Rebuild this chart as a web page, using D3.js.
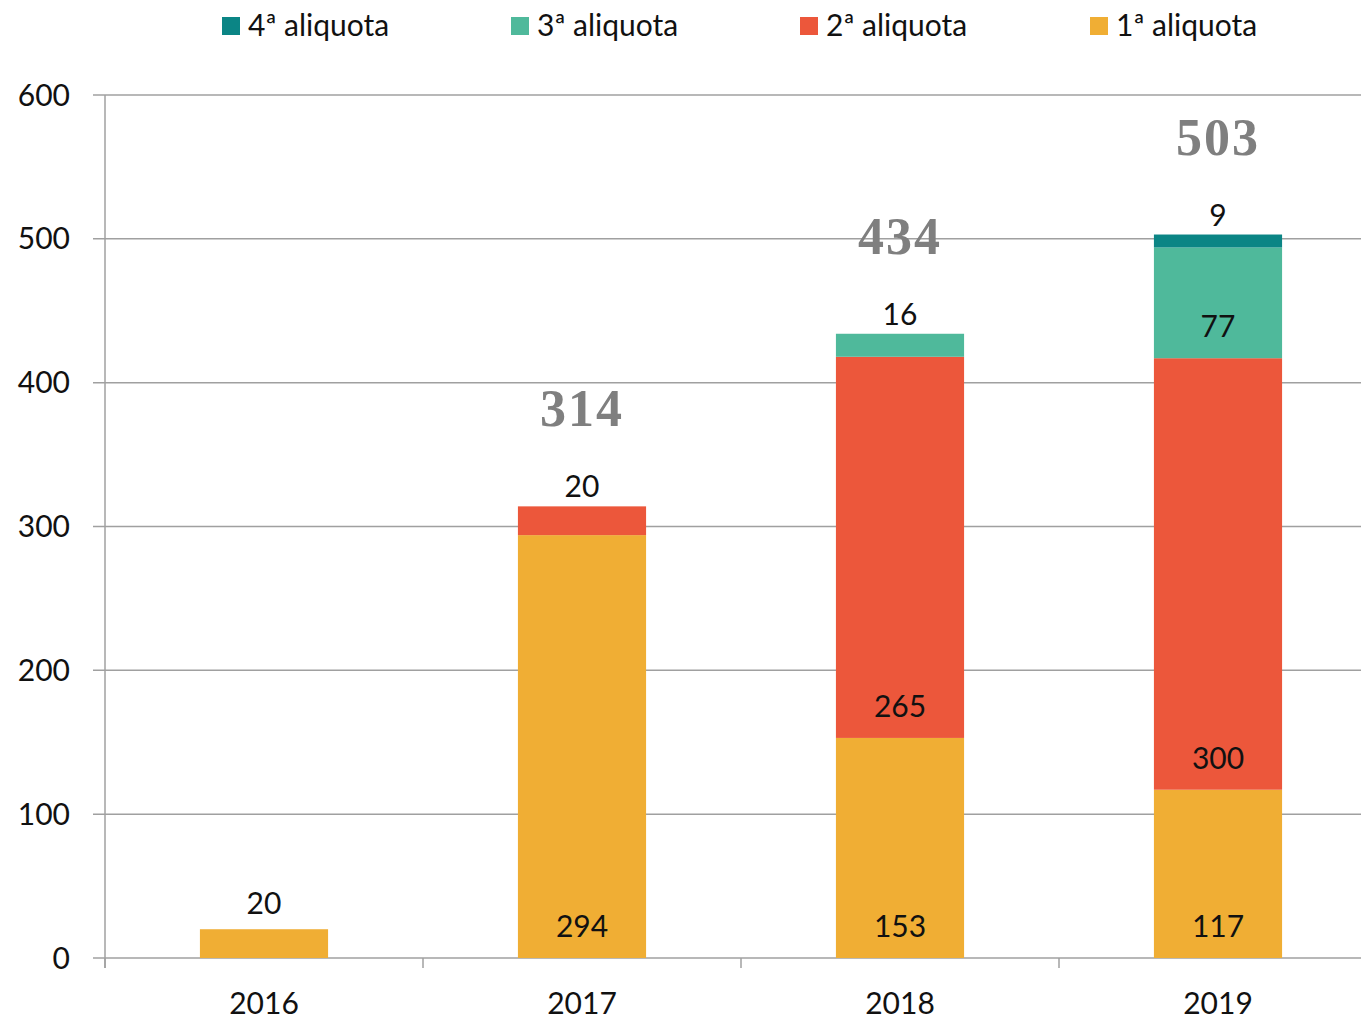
<!DOCTYPE html>
<html><head><meta charset="utf-8">
<script src="https://cdn.jsdelivr.net/npm/d3@7"></script>
<style>body{margin:0;background:#fff;} svg{display:block;}</style>
</head><body>
<svg id="c" width="1361" height="1019"></svg>
<script>
const years = ["2016","2017","2018","2019"];
const aliquota1 = [20, 294, 153, 117];
const aliquota2 = [0, 20, 265, 300];
const aliquota3 = [0, 0, 16, 77];
const aliquota4 = [0, 0, 0, 9];
const totals = [null, 314, 434, 503];
const yTicks = [0, 100, 200, 300, 400, 500, 600];
const seriesNames = ["1ª aliquota","2ª aliquota","3ª aliquota","4ª aliquota"];
const legendOrder = ["4ª aliquota","3ª aliquota","2ª aliquota","1ª aliquota"];
const colors = {"1ª aliquota":"#f0ae34","2ª aliquota":"#ec573b","3ª aliquota":"#4fb99b","4ª aliquota":"#0b8585"};

(function(){
const svg = d3.select("#c");
const font = "Lato, 'Open Sans', sans-serif";
const pLeft = 105, pRight = 1377, pTop = 95, pBottom = 958;

const x = d3.scaleBand().domain(years).range([pLeft, pRight]).padding(0);
const y = d3.scaleLinear().domain([0, 600]).range([pBottom, pTop]);
const bw = x.step() * 0.403;

svg.append("g").selectAll("line").data(yTicks).join("line")
  .attr("x1", pLeft - 12).attr("x2", 1361)
  .attr("y1", d => y(d)).attr("y2", d => y(d))
  .attr("stroke", "#a0a0a0").attr("stroke-width", 1.5);
svg.append("line").attr("x1", pLeft).attr("x2", pLeft).attr("y1", pTop).attr("y2", pBottom + 10)
  .attr("stroke", "#a0a0a0").attr("stroke-width", 1.5);
svg.append("g").selectAll("line").data(years).join("line")
  .attr("x1", d => x(d)).attr("x2", d => x(d)).attr("y1", pBottom).attr("y2", pBottom + 10)
  .attr("stroke", "#a0a0a0").attr("stroke-width", 1.5);
svg.append("g").selectAll("text").data(yTicks).join("text")
  .attr("x", 70).attr("y", d => y(d)).attr("dy", "0.35em")
  .attr("text-anchor", "end").attr("font-family", font).attr("font-size", 30)
  .attr("fill", "#111").text(d => d);
svg.append("g").selectAll("text").data(years).join("text")
  .attr("x", d => x(d) + x.step()/2).attr("y", 1014)
  .attr("text-anchor", "middle").attr("font-family", font).attr("font-size", 30)
  .attr("fill", "#111").text(d => d);

const rows = years.map((yr, i) => ({year: yr, "1ª aliquota": aliquota1[i], "2ª aliquota": aliquota2[i], "3ª aliquota": aliquota3[i], "4ª aliquota": aliquota4[i]}));
const stack = d3.stack().keys(seriesNames)(rows);

const g = svg.append("g");
stack.forEach(layer => {
  g.selectAll(null).data(layer.filter(d => d[1] > d[0])).join("rect")
    .attr("x", d => x(d.data.year) + x.step()/2 - bw/2)
    .attr("width", bw)
    .attr("y", d => y(d[1]))
    .attr("height", d => y(d[0]) - y(d[1]))
    .attr("fill", colors[layer.key]);
});

stack.forEach(layer => {
  layer.forEach(d => {
    const v = d[1] - d[0];
    if (v <= 0) return;
    const cx = x(d.data.year) + x.step()/2;
    const segH = y(d[0]) - y(d[1]);
    const ty = segH < 40 ? y(d[1]) - (d[0] === 0 ? 15 : 9) : y(d[0]) - 21;
    g.append("text").attr("x", cx).attr("y", ty).attr("text-anchor", "middle")
      .attr("font-family", font).attr("font-size", 30).attr("fill", "#111").text(v);
  });
});

years.forEach((yr, i) => {
  if (totals[i] == null) return;
  g.append("text").attr("x", x(yr) + x.step()/2).attr("y", y(totals[i]) - 80)
    .attr("text-anchor", "middle").attr("font-family", "'Liberation Serif', serif")
    .attr("font-weight", "bold").attr("font-size", 52).attr("letter-spacing", 2).attr("fill", "#7f7f7f")
    .text(totals[i]);
});

const lgX = [222, 511, 800, 1090];
const lg = svg.append("g");
legendOrder.forEach((name, i) => {
  lg.append("rect").attr("x", lgX[i]).attr("y", 17).attr("width", 18).attr("height", 18).attr("fill", colors[name]);
  lg.append("text").attr("x", lgX[i] + 26).attr("y", 36).attr("font-family", font)
    .attr("font-size", 30).attr("fill", "#111").text(name);
});
})();
</script>
</body></html>
